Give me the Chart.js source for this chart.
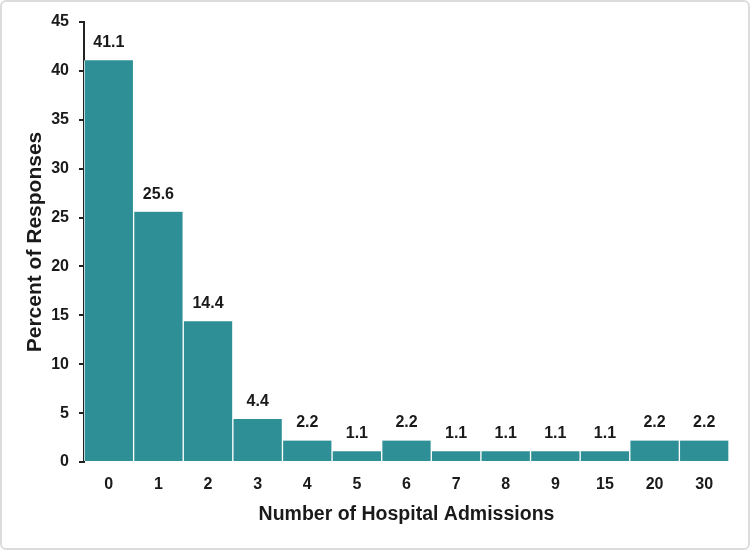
<!DOCTYPE html>
<html>
<head>
<meta charset="utf-8">
<script src="https://cdn.jsdelivr.net/npm/chart.js@4"></script>
<style>
  html, body { margin: 0; padding: 0; background: #fff; }
  #caixa {
    width: 750px; height: 550px; box-sizing: border-box;
    border: 2px solid #dcdcdc; border-radius: 6px; position: relative;
  }
  #caixa canvas { position: absolute; left: -2px; top: -2px; }
</style>
</head>
<body>
<div id="caixa"><canvas id="grafico" width="750" height="550"></canvas></div>
<script>
var categorias = ['0', '1', '2', '3', '4', '5', '6', '7', '8', '9', '15', '20', '30'];
var percentuais = [41.1, 25.6, 14.4, 4.4, 2.2, 1.1, 2.2, 1.1, 1.1, 1.1, 1.1, 2.2, 2.2];
var ticksY = [0, 5, 10, 15, 20, 25, 30, 35, 40, 45];

// escreve o valor em cima de cada barra
const rotulos = {
  id: 'rotulos',
  afterDatasetsDraw(chart) {
    const ctx = chart.ctx;
    const meta = chart.getDatasetMeta(0);
    ctx.save();
    ctx.font = 'bold 16px "Liberation Sans", Arial, sans-serif';
    ctx.fillStyle = '#1a1a1a';
    ctx.textAlign = 'center';
    ctx.textBaseline = 'alphabetic';
    meta.data.forEach(function (barra, i) {
      ctx.fillText(percentuais[i].toFixed(1), barra.x, barra.y - 13);
    });
    ctx.restore();
  }
};

const fonteTick = { family: '"Liberation Sans", Arial, sans-serif', size: 16, weight: 'bold' };
const fonteTitulo = { family: '"Liberation Sans", Arial, sans-serif', size: 19.5, weight: 'bold' };

new Chart(document.getElementById('grafico'), {
  type: 'bar',
  data: {
    labels: categorias,
    datasets: [{
      data: percentuais,
      backgroundColor: '#2e9096',
      borderColor: '#ffffff',
      borderWidth: { left: 1, right: 1, top: 0, bottom: 0 },
      borderSkipped: false,
      barPercentage: 1,
      categoryPercentage: 1
    }]
  },
  options: {
    responsive: false,
    animation: false,
    layout: { padding: { top: 22, right: 21, left: 19, bottom: 20 } },
    plugins: { legend: { display: false }, tooltip: { enabled: false } },
    scales: {
      x: {
        grid: { display: false },
        border: { display: false },
        ticks: { color: '#1a1a1a', font: fonteTick, padding: 5 },
        title: { display: true, text: 'Number of Hospital Admissions', color: '#1a1a1a', font: fonteTitulo, padding: { top: 6 } },
        afterFit: function (s) { s.height = 68; }
      },
      y: {
        min: 0,
        max: 45,
        afterBuildTicks: function (s) { s.ticks = ticksY.map(function (v) { return { value: v }; }); },
        grid: { drawOnChartArea: false, drawTicks: true, tickLength: 5, color: '#222', lineWidth: 2 },
        border: { display: true, color: '#222', width: 2 },
        ticks: { color: '#1a1a1a', font: fonteTick, padding: 10 },
        title: { display: true, text: 'Percent of Responses', color: '#1a1a1a', font: Object.assign({}, fonteTitulo, { size: 21 }), padding: { bottom: 8 } },
        afterFit: function (s) { s.width = 65; }
      }
    }
  },
  plugins: [rotulos]
});
</script>
</body>
</html>
